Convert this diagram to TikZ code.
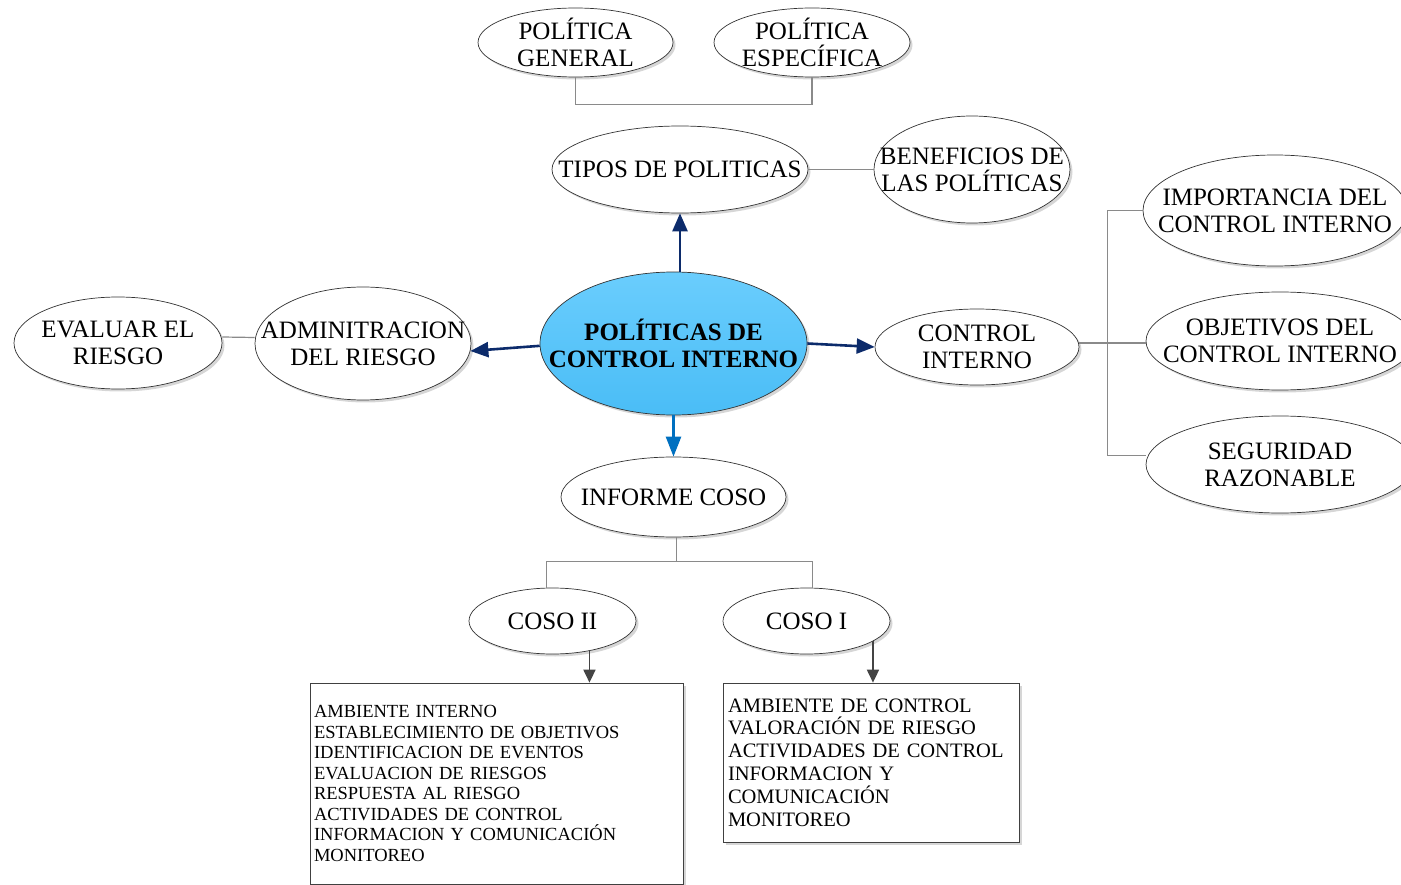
\documentclass[tikz,border=0pt]{standalone}
\usepackage{fontspec}
\setmainfont{Liberation Serif}
\usetikzlibrary{shapes.geometric,arrows.meta,shadows,calc}
\definecolor{navy}{HTML}{0C2B6B}
\definecolor{coreblue}{HTML}{0070C0}
\definecolor{skytop}{HTML}{6ACDFD}
\definecolor{skybot}{HTML}{4ABDF6}
\definecolor{linkgrey}{HTML}{8A8A8A}
\definecolor{tipgrey}{HTML}{444444}
\begin{document}
\begin{tikzpicture}[x=1pt,y=-1pt,
  softshadow/.style={drop shadow={shadow xshift=2.5pt,shadow yshift=-2.5pt,fill=black!16,opacity=1}},
  ovaltext/.style={inner sep=0pt,align=center,font=\fontsize{25}{27}\selectfont},
  % the ellipse keeps its given size; its words sit in a centred label
  oval/.style={ellipse,draw=black!80,line width=0.7pt,fill=white,inner sep=0pt,softshadow,
    label={[ovaltext]center:#1}},
  core/.style={oval={#1},top color=skytop,bottom color=skybot,
    label={[ovaltext,font=\fontsize{25}{27}\selectfont\bfseries]center:#1}},
  listbox/.style={rectangle,draw=black!75,line width=0.7pt,fill=white,align=left,softshadow,inner ysep=0pt},
  link/.style={draw=linkgrey,line width=1.2pt},
  mainarrow/.style={draw=navy,line width=2.6pt,-{Triangle[length=18pt,width=15pt]}},
  downarrow/.style={draw=coreblue,line width=2.6pt,-{Triangle[length=20pt,width=15pt]}},
  greyarrow/.style={draw=tipgrey,line width=1.8pt,-{Triangle[length=13pt,width=12pt]}}]
\useasboundingbox (0,0) rectangle (1401,885);
\clip (0,0) rectangle (1401,885);

% central topic
\node[ellipse,draw=black!80,line width=0.7pt,softshadow,top color=skytop,bottom color=skybot,
  minimum width=267,minimum height=143,
  label={[ovaltext,font=\fontsize{25}{27}\selectfont\bfseries]center:POLÍTICAS DE\\CONTROL INTERNO}]
  (c) at (673.5,343.5) {};

% policy types branch
\node[oval={TIPOS DE POLITICAS},minimum width=256,minimum height=87] (tp) at (680,169.5) {};
\node[oval={BENEFICIOS DE\\LAS POLÍTICAS},minimum width=196,minimum height=107] (ben) at (972,169.5) {};
\node[oval={POLÍTICA\\GENERAL},minimum width=195,minimum height=69] (pg) at (575.5,42.5) {};
\node[oval={POLÍTICA\\ESPECÍFICA},minimum width=196,minimum height=69] (pe) at (812,42.5) {};

% risk branch
\node[oval={ADMINITRACION\\DEL RIESGO},minimum width=216,minimum height=113] (adm) at (363,343.5) {};
\node[oval={EVALUAR EL\\RIESGO},minimum width=208,minimum height=92] (ev) at (118,343) {};

% internal control branch
\node[oval={CONTROL\\INTERNO},minimum width=204,minimum height=76] (ci) at (977,347) {};
\node[oval={IMPORTANCIA DEL\\CONTROL INTERNO},minimum width=264,minimum height=111] (imp) at (1275,210.5) {};
\node[oval={OBJETIVOS DEL\\CONTROL INTERNO},minimum width=268,minimum height=98] (obj) at (1280,341) {};
\node[oval={SEGURIDAD\\RAZONABLE},minimum width=268,minimum height=97] (seg) at (1280,464.5) {};

% COSO branch
\node[oval={INFORME COSO},minimum width=225,minimum height=80] (inf) at (673.5,497) {};
\node[oval={COSO II},minimum width=167,minimum height=66] (c2) at (552.5,621) {};
\node[oval={COSO I},minimum width=167,minimum height=66] (c1) at (806.5,621) {};

\node[listbox,minimum height=201,text width=365,inner xsep=4pt,
  font=\fontsize{18.5}{20.5}\selectfont] (b2) at (496.5,783.5)
  {AMBIENTE INTERNO\\ESTABLECIMIENTO DE OBJETIVOS\\IDENTIFICACION DE EVENTOS\\EVALUACION DE RIESGOS\\RESPUESTA AL RIESGO\\ACTIVIDADES DE CONTROL\\INFORMACION Y COMUNICACIÓN\\MONITOREO};
\node[listbox,minimum height=159,text width=286,inner xsep=5pt,
  font=\fontsize{20.5}{22.8}\selectfont] (b1) at (871,762.5)
  {AMBIENTE DE CONTROL\\VALORACIÓN DE RIESGO\\ACTIVIDADES DE CONTROL\\INFORMACION Y\\COMUNICACIÓN\\MONITOREO};

% arrows from the central topic
\draw[mainarrow] (c.north -| tp.south) -- (tp.south);
\draw[mainarrow] (c.181) -- (adm.-4);
\draw[mainarrow] (c.east) -- (ci.west);
\draw[downarrow] (c.south) -- (inf.north);

% plain links
\draw[link] (pg.south) -- ++(0,27) -| (pe.south);
\draw[link] (tp.east) -- (ben.west);
\draw[link] ($(ev.east)+(0,-6)$) -- ($(adm.west)+(0,-6)$);

\coordinate (bx) at ($(ci.east)+(28,-4)$);
\draw[link] ($(ci.east)+(0,-4)$) -- (bx);
\draw[link] (imp.west) -| (bx);
\draw[link] ($(seg.west)+(0,-9)$) -| (bx);
\draw[link] (bx) -- (bx -| obj.west);

\coordinate (tj) at ($(inf.south)+(3,24)$);
\draw[link] (inf.south -| tj) -- (tj);
\draw[link] (tj) -| ($(c2.north)+(-6,0)$);
\draw[link] (tj) -| ($(c1.north)+(6,0)$);

% COSO lists
\draw[greyarrow] (c2.-39) -- (c2.-39 |- b2.north);
\draw[greyarrow] (c1.-17) -- (c1.-17 |- b1.north);
\end{tikzpicture}
\end{document}
